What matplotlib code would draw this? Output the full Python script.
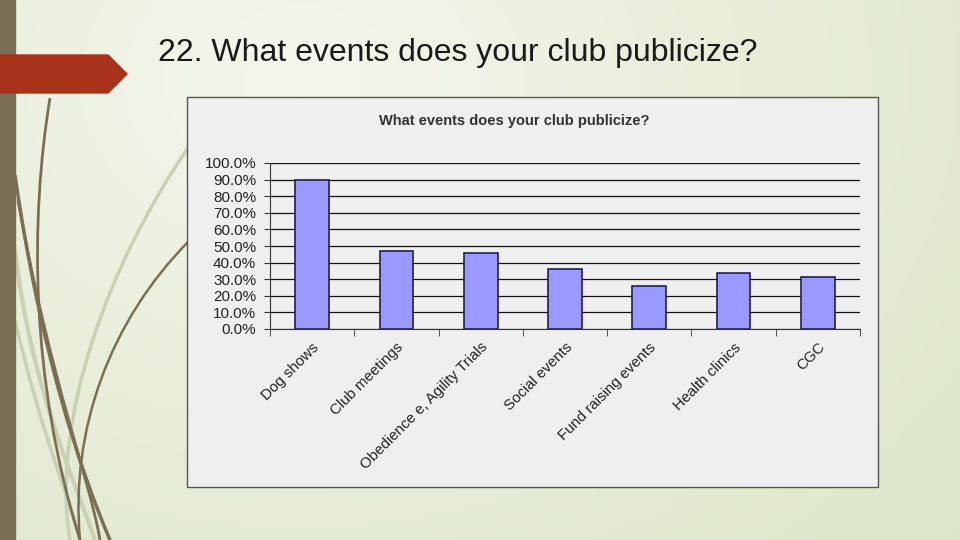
import numpy as np
import matplotlib.pyplot as plt
from matplotlib.path import Path
from matplotlib.patches import PathPatch, Polygon, Rectangle

categories = ["Dog shows", "Club meetings", "Obedience e, Agility Trials",
              "Social events", "Fund raising events", "Health clinics", "CGC"]
percent = [90.0, 47.0, 45.5, 36.0, 26.0, 34.0, 31.5]
y_ticks = np.arange(0, 101, 10)

slide_title = "22. What events does your club publicize?"
chart_title = "What events does your club publicize?"

W, H = 960, 540
fig = plt.figure(figsize=(9.6, 5.4), dpi=100)
plt.rcParams['font.family'] = ['Liberation Sans', 'DejaVu Sans']

# slide background (pixel coordinates, y down)
bg = fig.add_axes([0, 0, 1, 1])
bg.set_xlim(0, W)
bg.set_ylim(H, 0)
bg.axis('off')
yy, xx = np.mgrid[0:H:4, 0:W:4]
d = np.sqrt(((xx - 300) / 900) ** 2 + ((yy - 80) / 700) ** 2)
d = np.clip(d, 0, 1)
c0 = np.array([0.955, 0.965, 0.925])
c1 = np.array([0.865, 0.900, 0.780])
img = c0 + (c1 - c0) * d[..., None]
bg.imshow(img, extent=[0, W, H, 0], aspect='auto', zorder=0)

# decorative curves
def curve(p0, p1, p2, p3, color, lw, alpha=1.0):
    path = Path([p0, p1, p2, p3], [Path.MOVETO, Path.CURVE4, Path.CURVE4, Path.CURVE4])
    bg.add_patch(PathPatch(path, fill=False, edgecolor=color, lw=lw, alpha=alpha, zorder=1))

light = '#c9d0b4'
dark = '#7a6f55'
curve((15, 250), (30, 380), (70, 470), (95, 540), light, 3)
curve((15, 320), (40, 430), (70, 500), (80, 540), light, 2.5)
curve((190, 145), (110, 260), (50, 420), (70, 540), light, 2.5)
curve((15, 175), (40, 350), (80, 470), (110, 540), dark, 2.5)
curve((18, 200), (50, 380), (90, 480), (100, 540), dark, 2)
curve((50, 98), (30, 220), (30, 380), (80, 540), dark, 2)
curve((190, 240), (110, 320), (70, 430), (80, 540), dark, 1.8)

bg.add_patch(Rectangle((0, 0), 15, H, color='#7b6f54', zorder=2))
bg.add_patch(Polygon([(0, 55), (108, 55), (127, 74), (108, 93), (0, 93)],
                     closed=True, color='#a8321a', zorder=3))
bg.text(158, 53, slide_title, fontsize=23, color='#1a1a1a', va='center', ha='left')

# chart frame
bg.add_patch(Rectangle((187, 97), 691, 390, facecolor='#efefef',
                       edgecolor='#555555', lw=1, zorder=4))
bg.text(514, 121, chart_title, fontsize=10.5, fontweight='bold', color='#333333',
        ha='center', va='center', zorder=5)

# bar axes
ax = fig.add_axes([270 / W, 1 - 329 / H, 590 / W, 166 / H])
ax.patch.set_alpha(0)
x = np.arange(len(categories))
ax.bar(x, percent, width=0.4, color='#9999ff', edgecolor='#202050', lw=1.2, zorder=3)
ax.set_xlim(-0.5, len(categories) - 0.5)
ax.set_ylim(0, 100)
ax.set_yticks(y_ticks)
ax.set_yticklabels([f"{v:.1f}%" for v in y_ticks], fontsize=11, color='#222222')
ax.yaxis.grid(True, color='#111111', lw=0.9, zorder=0)
ax.set_axisbelow(True)
ax.set_xticks(x)
ax.set_xticklabels(categories, rotation=45, ha='right', va='top',
                   rotation_mode='anchor', fontsize=10.8, color='#222222')
ax.set_xticks(np.arange(-0.5, len(categories)), minor=True)
ax.tick_params(axis='x', which='major', length=0, pad=8)
ax.tick_params(axis='x', which='minor', length=5, color='#333333')
ax.tick_params(axis='y', length=4, color='#333333', pad=6)
for s in ['top', 'right']:
    ax.spines[s].set_visible(False)
ax.spines['left'].set_color('#333333')
ax.spines['bottom'].set_color('#333333')

fig.savefig('out.png', dpi=100)
